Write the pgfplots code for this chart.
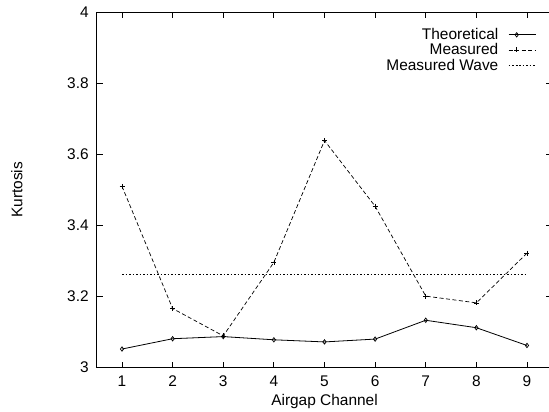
\documentclass[border=0pt]{standalone}
\usepackage{fontspec}
\setmainfont{Liberation Sans}
\usepackage{pgfplots}
\pgfplotsset{compat=1.18}
\newcommand{\chartfont}{\fontsize{15.5}{18}\selectfont}
\begin{document}
\begin{tikzpicture}
\begin{axis}[
  at={(0,0)}, anchor=south west,
  scale only axis, width=455.6bp, height=355.2bp,
  xmin=0.5, xmax=9.5, ymin=3, ymax=4,
  xtick={1,2,3,4,5,6,7,8,9},
  ytick={3,3.2,3.4,3.6,3.8,4},
  yticklabels={3,3.2,3.4,3.6,3.8,4},
  tick align=inside, major tick length=6bp,
  axis line style={line width=1.1bp},
  every tick/.style={black, line width=0.8bp},
  tick label style={font=\chartfont},
  /pgf/number format/assume math mode=true,
  xticklabel style={yshift=-5bp},
  yticklabel style={xshift=-4.5bp},
  xlabel={Airgap Channel}, ylabel={Kurtosis},
  every axis x label/.style={at={(axis description cs:0.5,-0.097)}, anchor=center, font=\chartfont},
  every axis y label/.style={at={(axis description cs:-0.175,0.5)}, rotate=90, anchor=center, font=\chartfont},
  legend style={draw=none, fill=none, at={(axis description cs:1,1)}, anchor=north east,
    xshift=-13bp, yshift=-12bp, font=\chartfont, row sep=-1.5bp, column sep=8bp},
  legend cell align=right, legend plot pos=right,
  legend image code/.code={\draw[mark repeat=2,mark phase=2,#1] plot coordinates {(0bp,0bp) (8bp,0bp) (27bp,0bp)};},
]
\addplot[black, line width=0.8bp, mark=diamond, mark size=2.2bp, mark options={solid, line width=0.7bp}] coordinates {
(1,3.052) (2,3.081) (3,3.087) (4,3.078) (5,3.072) (6,3.080) (7,3.133) (8,3.112) (9,3.062)};
\addlegendentry{Theoretical}
\addplot[black, line width=0.7bp, dash pattern=on 4bp off 2.5bp, mark=+, mark size=2.5bp, mark options={solid, line width=0.7bp}] coordinates {
(1,3.510) (2,3.166) (3,3.089) (4,3.296) (5,3.639) (6,3.454) (7,3.201) (8,3.182) (9,3.322)};
\addlegendentry{Measured}
\addplot[black, line width=0.7bp, dash pattern=on 1.5bp off 2bp] coordinates {(1,3.261) (9,3.261)};
\addlegendentry{Measured Wave}
\end{axis}
\pgfresetboundingbox
\useasboundingbox (-96.7bp,-44.5bp) rectangle (452.3bp,367.5bp);
\end{tikzpicture}
\end{document}
